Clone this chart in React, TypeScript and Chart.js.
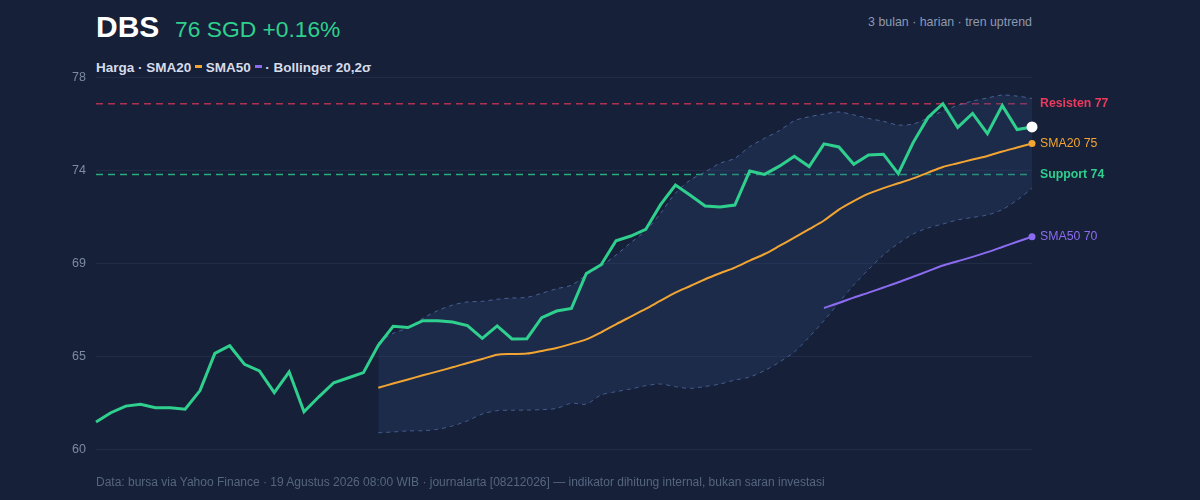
import React, { useRef, useEffect } from 'react';
import { Chart, registerables } from 'chart.js';

Chart.register(...registerables);

// Daily closes, 3 months (SGD)
const price = [
    61.32, 61.77, 62.09, 62.18, 62.01, 62.01, 61.94, 62.84, 64.64, 65.01,
    64.11, 63.79, 62.74, 63.75, 61.82, 62.54, 63.22, 63.46, 63.71, 65.03,
    65.95, 65.89, 66.22, 66.22, 66.16, 65.99, 65.37, 65.97, 65.34, 65.35,
    66.37, 66.69, 66.82, 68.51, 68.93, 70.09, 70.32, 70.64, 71.84, 72.79,
    72.29, 71.77, 71.72, 71.82, 73.47, 73.30, 73.70, 74.18, 73.68, 74.78,
    74.63, 73.79, 74.24, 74.28, 73.34, 74.84, 76.06, 76.72, 75.58, 76.25,
    75.27, 76.63, 75.47, 75.60,
];

// SMA20 and Bollinger bands start at day 20
const sma20Start = 19;
const sma20 = [
    62.98, 63.18, 63.38, 63.58, 63.77, 63.97, 64.18, 64.37, 64.58, 64.61,
    64.63, 64.76, 64.90, 65.10, 65.32, 65.66, 66.05, 66.42, 66.79, 67.19,
    67.58, 67.90, 68.23, 68.52, 68.79, 69.13, 69.45, 69.84, 70.24, 70.65,
    71.07, 71.60, 72.01, 72.37, 72.64, 72.87, 73.11, 73.39, 73.66, 73.84,
    74.02, 74.19, 74.41, 74.60, 74.80,
];
const bbUpper = [
    65.16, 65.61, 65.88, 66.34, 66.71, 66.98, 67.13, 67.16, 67.26, 67.32,
    67.35, 67.55, 67.77, 67.94, 68.43, 68.87, 69.40, 70.00, 70.58, 71.42,
    72.39, 73.03, 73.42, 73.84, 74.08, 74.64, 75.05, 75.42, 75.90, 76.09,
    76.22, 76.32, 76.18, 76.01, 75.87, 75.69, 75.74, 76.03, 76.37, 76.64,
    76.85, 77.00, 77.14, 77.09, 76.98,
];
const bbLower = [
    60.80, 60.84, 60.89, 60.90, 60.97, 61.13, 61.38, 61.71, 61.87, 61.89,
    61.90, 61.92, 61.98, 62.23, 62.19, 62.63, 62.79, 62.92, 63.08, 63.16,
    63.03, 62.95, 63.04, 63.16, 63.35, 63.50, 63.81, 64.22, 64.71, 65.43,
    66.23, 67.10, 67.95, 68.70, 69.40, 69.96, 70.42, 70.71, 70.90, 71.10,
    71.22, 71.34, 71.60, 72.06, 72.63,
];

// SMA50 starts at day 50
const sma50Start = 49;
const sma50 = [
    66.84, 67.08, 67.34, 67.58, 67.83, 68.08, 68.35, 68.62, 68.89, 69.10,
    69.31, 69.54, 69.79, 70.04, 70.29,
];

const resistance = 76.72;
const support = 73.3;
const levelLabels = ['Resisten 77', 'Support 74'];
const endLabels = ['SMA20 75', 'SMA50 70'];

const yMin = 60;
const yMax = 78;
const yStep = 4.5;

const days = price.map((_, i) => `H${i + 1}`);

const BG = '#162039';
const GREEN = '#2fd08e';
const ORANGE = '#f2a532';
const PURPLE = '#8b6cf0';
const RED = '#ea3a5e';
const FONT = '"Liberation Sans", Arial, Helvetica, sans-serif';

const pad = (start: number, arr: number[]) => [...Array(start).fill(null), ...arr];
const lastOnly = (len: number, r: number) => (c: any) => (c.dataIndex === len - 1 ? r : 0);

const levelsPlugin = {
    id: 'levels',
    beforeDatasetsDraw(chart: any) {
        const { ctx, chartArea, scales } = chart;
        const lines = [
            { v: resistance, color: '#ad3150' },
            { v: support, color: '#27ac7c' },
        ];
        ctx.save();
        ctx.lineWidth = 1.5;
        ctx.setLineDash([7, 5]);
        lines.forEach((l) => {
            const y = scales.y.getPixelForValue(l.v);
            ctx.strokeStyle = l.color;
            ctx.beginPath();
            ctx.moveTo(chartArea.left, y);
            ctx.lineTo(chartArea.right, y);
            ctx.stroke();
        });
        ctx.restore();
    },
    afterDraw(chart: any) {
        const { ctx, chartArea, scales } = chart;
        const x = chartArea.right + 8;
        const items = [
            { text: levelLabels[0], v: resistance, color: RED, bold: true },
            { text: endLabels[0], v: sma20[sma20.length - 1], color: ORANGE, bold: false },
            { text: levelLabels[1], v: support, color: GREEN, bold: true },
            { text: endLabels[1], v: sma50[sma50.length - 1], color: PURPLE, bold: false },
        ];
        ctx.save();
        ctx.textAlign = 'left';
        ctx.textBaseline = 'middle';
        items.forEach((it) => {
            ctx.font = `${it.bold ? 'bold ' : ''}12.3px ${FONT}`;
            ctx.fillStyle = it.color;
            ctx.fillText(it.text, x, scales.y.getPixelForValue(it.v));
        });
        ctx.restore();
    },
};

const App: React.FC = () => {
    const chartRef = useRef<HTMLCanvasElement>(null);
    const chartInstance = useRef<Chart | null>(null);

    useEffect(() => {
        if (!chartRef.current) return;
        const ctx = chartRef.current.getContext('2d');
        if (!ctx) return;
        if (chartInstance.current) chartInstance.current.destroy();

        chartInstance.current = new Chart(ctx, {
            type: 'line',
            data: {
                labels: days,
                datasets: [
                    {
                        label: 'Harga',
                        data: price,
                        borderColor: GREEN,
                        borderWidth: 3,
                        tension: 0,
                        pointRadius: lastOnly(price.length, 5.5),
                        pointBackgroundColor: '#ffffff',
                        pointBorderWidth: 0,
                        clip: false,
                        order: 0,
                    },
                    {
                        label: 'SMA20',
                        data: pad(sma20Start, sma20),
                        borderColor: ORANGE,
                        borderWidth: 2,
                        tension: 0.3,
                        pointRadius: lastOnly(price.length, 3.5),
                        pointBackgroundColor: ORANGE,
                        pointBorderWidth: 0,
                        clip: false,
                        order: 1,
                    },
                    {
                        label: 'SMA50',
                        data: pad(sma50Start, sma50),
                        borderColor: PURPLE,
                        borderWidth: 2,
                        tension: 0.3,
                        pointRadius: lastOnly(price.length, 3.5),
                        pointBackgroundColor: PURPLE,
                        pointBorderWidth: 0,
                        clip: false,
                        order: 2,
                    },
                    {
                        label: 'BB atas',
                        data: pad(sma20Start, bbUpper),
                        borderColor: 'rgba(84,112,168,0.8)',
                        borderWidth: 1,
                        borderDash: [4, 4],
                        tension: 0.3,
                        pointRadius: 0,
                        fill: '+1',
                        backgroundColor: 'rgba(45,70,120,0.3)',
                        order: 3,
                    },
                    {
                        label: 'BB bawah',
                        data: pad(sma20Start, bbLower),
                        borderColor: 'rgba(84,112,168,0.8)',
                        borderWidth: 1,
                        borderDash: [4, 4],
                        tension: 0.3,
                        pointRadius: 0,
                        fill: false,
                        order: 4,
                    },
                ],
            },
            options: {
                responsive: true,
                maintainAspectRatio: false,
                animation: false,
                layout: {
                    padding: { left: 0, right: 168, top: 77.3, bottom: 50.7 },
                },
                scales: {
                    x: {
                        display: false,
                    },
                    y: {
                        min: yMin,
                        max: yMax,
                        afterFit: (scale: any) => {
                            scale.width = 96;
                        },
                        border: { display: false },
                        grid: {
                            color: 'rgba(110,130,170,0.13)',
                            drawTicks: false,
                        },
                        ticks: {
                            stepSize: yStep,
                            padding: 10,
                            color: '#7d8aa3',
                            font: { size: 12.5, family: FONT },
                            callback: (value: any) => String(Math.round(Number(value))),
                        },
                    },
                },
                plugins: {
                    legend: { display: false },
                    tooltip: { enabled: false },
                },
            },
            plugins: [levelsPlugin],
        });

        return () => {
            if (chartInstance.current) {
                chartInstance.current.destroy();
                chartInstance.current = null;
            }
        };
    }, []);

    const dash = (color: string) => (
        <span style={{ display: 'inline-block', width: 7, height: 3, background: color, verticalAlign: 'middle', marginBottom: 2 }} />
    );

    return (
        <div style={{ position: 'fixed', left: 0, top: 0, width: 1200, height: 500, background: BG, fontFamily: FONT, overflow: 'hidden' }}>
            <div style={{ position: 'absolute', left: 96, top: 12, fontSize: 30, lineHeight: '30px', fontWeight: 700, color: '#ffffff' }}>
                DBS
            </div>
            <div style={{ position: 'absolute', left: 175, top: 18, fontSize: 22.8, lineHeight: '23px', color: GREEN }}>
                76 SGD +0.16%
            </div>
            <div style={{ position: 'absolute', right: 168, top: 15.5, fontSize: 12.4, lineHeight: '13px', color: '#8d99b0' }}>
                3 bulan · harian · tren uptrend
            </div>
            <div style={{ position: 'absolute', left: 96, top: 60.5, fontSize: 13.5, lineHeight: '14px', fontWeight: 700, color: '#d6dcea', whiteSpace: 'pre' }}>
                Harga · SMA20 {dash(ORANGE)} SMA50 {dash(PURPLE)} · Bollinger 20,2σ
            </div>
            <div style={{ position: 'absolute', left: 0, top: 0, width: 1200, height: 500 }}>
                <canvas ref={chartRef}></canvas>
            </div>
            <div style={{ position: 'absolute', left: 96, top: 476, fontSize: 12, lineHeight: '12px', color: '#56657f', whiteSpace: 'nowrap' }}>
                Data: bursa via Yahoo Finance · 19 Agustus 2026 08:00 WIB · journalarta [08212026] — indikator dihitung internal, bukan saran investasi
            </div>
        </div>
    );
};

export default App;
